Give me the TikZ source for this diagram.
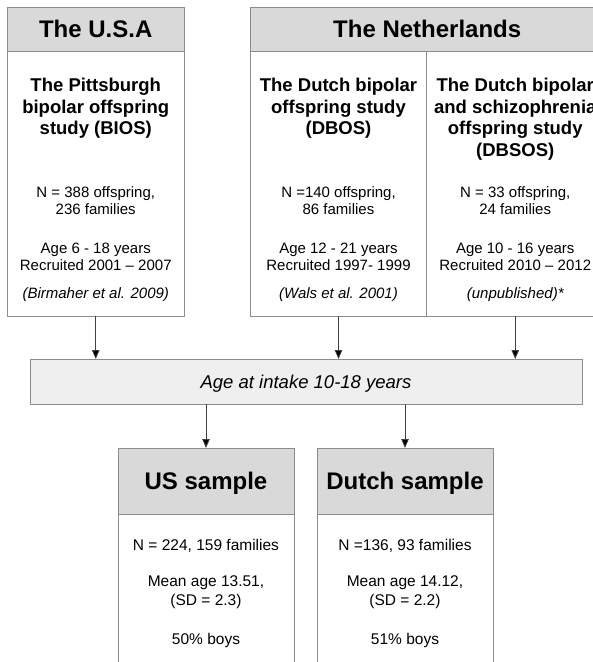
\documentclass[tikz,border=0pt]{standalone}
\usepackage{fontspec}
\setmainfont{Liberation Sans}
\usetikzlibrary{arrows.meta}
\definecolor{bordergray}{HTML}{8C8C8C}
\definecolor{headfill}{HTML}{D9D9D9}
\definecolor{agefill}{HTML}{EFEFEF}
\tikzset{
  boxbase/.style={draw=bordergray, line width=0.9pt, rectangle, inner sep=0pt, outer sep=0pt},
  headbox/.style={boxbase, fill=headfill},
  bodybox/.style={boxbase, fill=white},
  agebox/.style={boxbase, fill=agefill},
  headtxt/.style={anchor=base, inner sep=0pt, font=\bfseries\fontsize{24}{28}\selectfont},
  titletxt/.style={anchor=base, inner sep=0pt, align=center, font=\bfseries\fontsize{18.5}{21.5}\selectfont},
  bodytxt/.style={anchor=base, inner sep=0pt, align=center, font=\fontsize{15}{17}\selectfont},
  bodytxtb/.style={anchor=base, inner sep=0pt, align=center, font=\fontsize{15.5}{19}\selectfont},
  citetxt/.style={anchor=base, inner sep=0pt, font=\itshape\fontsize{15}{17}\selectfont},
  agetxt/.style={anchor=base, inner sep=0pt, font=\itshape\fontsize{18.5}{21}\selectfont},
  arr/.style={draw=black!75, line width=0.8pt, -{Triangle[length=9pt,width=7.5pt,fill=black]}}
}
\begin{document}
\begin{tikzpicture}[x=1pt,y=-1pt]
\useasboundingbox (0,0) rectangle (593,662);
\clip (0,0) rectangle (593,662);
% top boxes
\node[headbox, minimum width=176.5pt, minimum height=44.5pt] (usahead) at (95.75,29.5) {};
\node[bodybox, minimum width=176.5pt, minimum height=264.5pt] (usabody) at (95.75,184) {};
\node[headbox, minimum width=353.5pt, minimum height=44.5pt] (nlhead) at (427.25,29.5) {};
\node[bodybox, minimum width=176pt, minimum height=264.5pt] (dbos) at (338.5,184) {};
\node[bodybox, minimum width=177.5pt, minimum height=264.5pt] (dbsos) at (515.25,184) {};
% middle box
\node[agebox, minimum width=552pt, minimum height=45pt] (age) at (306,381.5) {};
% bottom boxes
\node[headbox, minimum width=176pt, minimum height=66pt] (ushead) at (206,481) {};
\node[bodybox, minimum width=176pt, minimum height=200pt] (usbody) at (206,614) {};
\node[headbox, minimum width=176pt, minimum height=66pt] (nlshead) at (405,481) {};
\node[bodybox, minimum width=176pt, minimum height=200pt] (nlsbody) at (405,614) {};
% header texts
\node[headtxt] (t1) at (95.75,37.8) {The U.S.A};
\node[headtxt] (t2) at (427.25,37.8) {The Netherlands};
% USA body (base = baseline of last line)
\node[titletxt] (u1) at (95.75,134.7) {The Pittsburgh\\bipolar offspring\\study (BIOS)};
\node[bodytxt] (u2) at (95.75,214.5) {N = 388 offspring,\\236 families};
\node[bodytxt] (u3) at (95.75,270.5) {Age 6 - 18 years\\Recruited 2001 -- 2007};
\node[citetxt] (u4) at (95.75,298.5) {(Birmaher et al. 2009)};
% DBOS body
\node[titletxt] (d1) at (338.5,134.7) {The Dutch bipolar\\offspring study\\(DBOS)};
\node[bodytxt] (d2) at (338.5,214.5) {N =140 offspring,\\86 families};
\node[bodytxt] (d3) at (338.5,270.5) {Age 12 - 21 years\\Recruited 1997- 1999};
\node[citetxt] (d4) at (338.5,298.5) {(Wals et al. 2001)};
% DBSOS body
\node[titletxt] (s1) at (515.25,156.2) {The Dutch bipolar\\and schizophrenia\\offspring study\\(DBSOS)};
\node[bodytxt] (s2) at (515.25,214.5) {N = 33 offspring,\\24 families};
\node[bodytxt] (s3) at (515.25,270.5) {Age 10 - 16 years\\Recruited 2010 -- 2012};
\node[citetxt] (s4) at (515.25,298.5) {(unpublished)*};
% age text
\node[agetxt] (a1) at (306,388) {Age at intake 10-18 years};
% bottom texts
\node[headtxt] (b1) at (206,489.5) {US sample};
\node[headtxt] (b2) at (405,489.5) {Dutch sample};
\node[bodytxtb] (b3) at (206,550.5) {N = 224, 159 families};
\node[bodytxtb] (b4) at (206,605) {Mean age 13.51,\\(SD = 2.3)};
\node[bodytxtb] (b5) at (206,644) {50\% boys};
\node[bodytxtb] (b6) at (405,550.5) {N =136, 93 families};
\node[bodytxtb] (b7) at (405,605) {Mean age 14.12,\\(SD = 2.2)};
\node[bodytxtb] (b8) at (405,644) {51\% boys};
% arrows
\draw[arr] (usabody.south) -- (usabody.south |- age.north);
\draw[arr] (dbos.south) -- (dbos.south |- age.north);
\draw[arr] (dbsos.south) -- (dbsos.south |- age.north);
\draw[arr] (age.south -| ushead.north) -- (ushead.north);
\draw[arr] (age.south -| nlshead.north) -- (nlshead.north);
\end{tikzpicture}
\end{document}
